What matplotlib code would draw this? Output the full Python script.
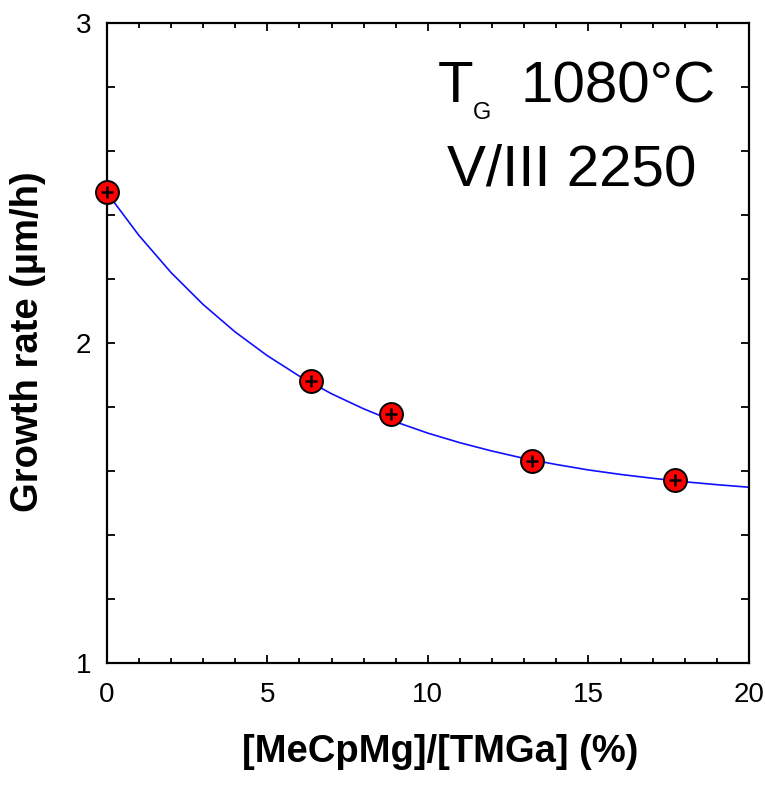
import matplotlib
matplotlib.use('Agg')
import matplotlib.pyplot as plt
from matplotlib.ticker import MultipleLocator

ratio  = [0.0, 6.35, 8.85, 13.25, 17.7]
growth = [2.47, 1.88, 1.777, 1.63, 1.571]

fit_x = list(range(0, 21))
fit_y = [2.470, 2.336, 2.220, 2.120, 2.034, 1.960, 1.896, 1.841, 1.794, 1.753,
         1.718, 1.688, 1.662, 1.639, 1.620, 1.603, 1.589, 1.577, 1.566, 1.557,
         1.549]

plt.rcParams['font.family'] = ['Liberation Sans', 'DejaVu Sans']

W, H = 765, 791
fig = plt.figure(figsize=(W / 100, H / 100), dpi=100)
ax = fig.add_axes([106.7 / W, 1 - 663 / H, 642.3 / W, 640.3 / H])

ax.plot(fit_x, fit_y, color='#1010ff', lw=1.2, zorder=2)
ax.plot(ratio, growth, 'o', ms=16.5, mfc='#ff0000', mec='black', mew=1.4,
        zorder=3, clip_on=False)
ax.plot(ratio, growth, '+', ms=8.5, color='black', mew=1.8, zorder=4,
        clip_on=False)

ax.set_xlim(0, 20)
ax.set_ylim(1, 3)
ax.xaxis.set_major_locator(MultipleLocator(5))
ax.xaxis.set_minor_locator(MultipleLocator(1))
ax.yaxis.set_major_locator(MultipleLocator(1))
ax.yaxis.set_minor_locator(MultipleLocator(0.2))
ax.tick_params(which='both', direction='in', top=True, right=True,
               width=1.3, labelsize=20, color='black')
ax.tick_params(axis='x', which='major', length=6, pad=14)
ax.tick_params(axis='x', which='minor', length=3.5)
ax.tick_params(axis='y', which='both', length=5.5, pad=11)
for s in ax.spines.values():
    s.set_linewidth(1.6)

fig.text(440 / W, 1 - 752 / H, '[MeCpMg]/[TMGa] (%)', fontsize=27.5,
         fontweight='bold', ha='center', va='center')
fig.text(28 / W, 1 - 342 / H, 'Growth rate (\u00b5m/h)', fontsize=27.5,
         fontweight='bold', ha='center', va='center', rotation=90)

ax.text(0.516, 0.876, 'T', transform=ax.transAxes, fontsize=42,
        ha='left', va='baseline')
ax.text(0.570, 0.8496, 'G', transform=ax.transAxes, fontsize=17,
        ha='left', va='baseline')
ax.text(0.6435, 0.876, '1080°C', transform=ax.transAxes, fontsize=42,
        ha='left', va='baseline')
ax.text(0.530, 0.7465, 'V/III 2250', transform=ax.transAxes, fontsize=42,
        ha='left', va='baseline')

fig.savefig('out.png', dpi=100)
